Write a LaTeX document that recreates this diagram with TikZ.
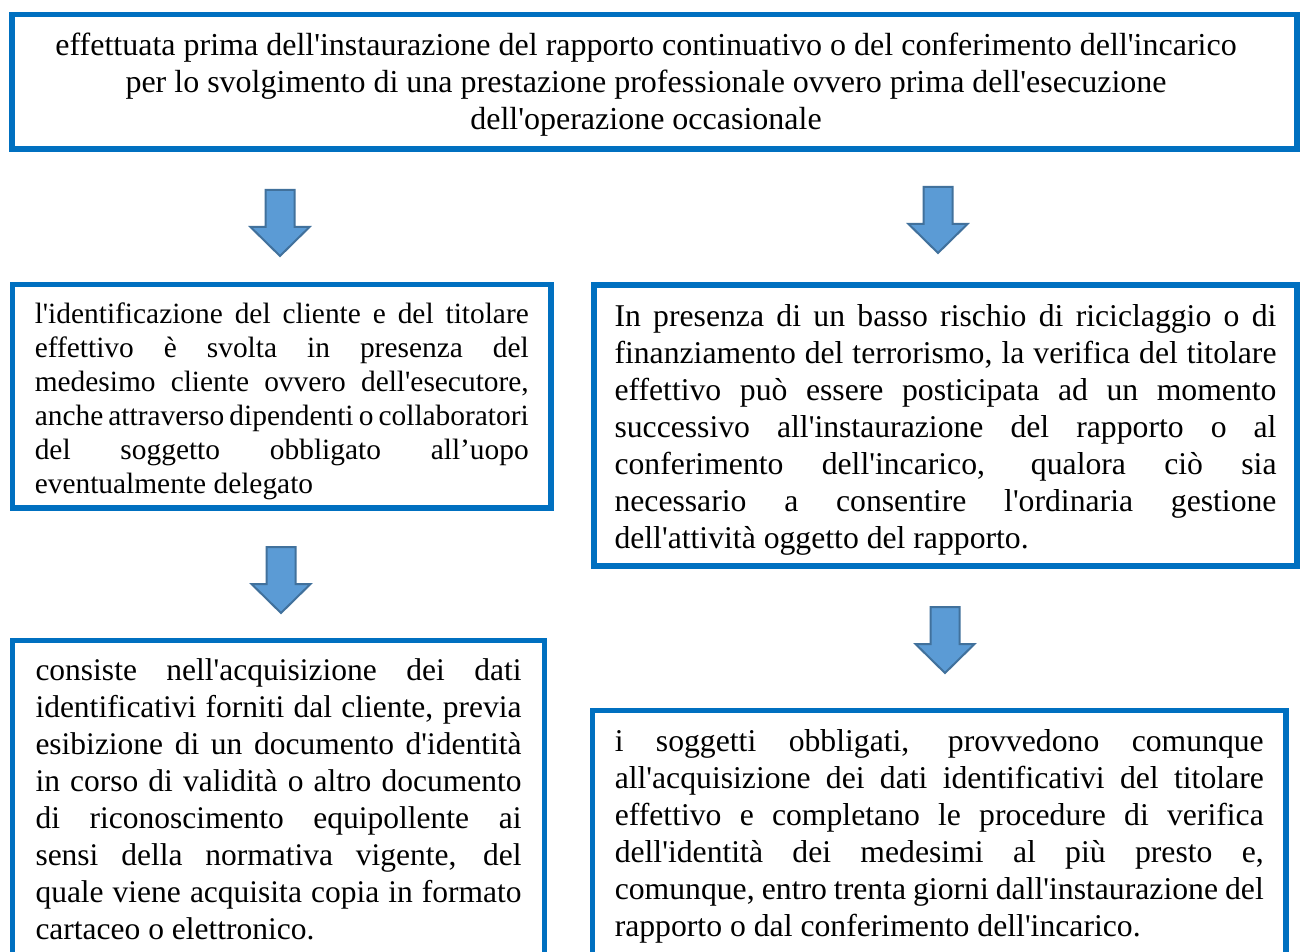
\documentclass[tikz,border=0pt]{standalone}
\usepackage{fontspec}
\setmainfont{Liberation Serif}[Ligatures=TeXOff]
\definecolor{bordoblu}{HTML}{0070C0}
\definecolor{frecciablu}{HTML}{5B9BD5}
\definecolor{frecciabordo}{HTML}{41719C}
\newcommand{\giustifica}{\spaceskip=.25em plus .5em minus .12em\relax\hyphenpenalty=10000\relax\tolerance=10000\relax}

\begin{document}
\begin{tikzpicture}[x=1pt,y=-1pt,
		riquadro/.style={draw=bordoblu, line width=5.5pt, inner sep=0pt},
		testo/.style={inner sep=0pt, align=justify, font={\fontsize{31.7}{37}\selectfont\giustifica}},
		testopiccolo/.style={testo, font={\fontsize{29.4}{34}\selectfont\giustifica}},
		freccia/.style={fill=frecciablu, draw=frecciabordo, line width=2pt}]
		\useasboundingbox (0,0) rectangle (1301,952);
		\fill[white] (0,0) rectangle (1301,952);
		% riquadro in alto
		\node[riquadro, minimum width=1285pt, minimum height=134.5pt] (cornice) at (654.5,81.75) {};
		\node[font={\fontsize{32}{37}\selectfont}, align=center] (intestazione) at (646,85) {effettuata prima dell'instaurazione del rapporto continuativo o del conferimento dell'incarico\\per lo svolgimento di una prestazione professionale ovvero prima dell'esecuzione\\dell'operazione occasionale};
		% colonna sinistra
		\node[riquadro, minimum width=538.5pt, minimum height=223.5pt] (riqident) at (281.75,396.25) {};
		\node[testopiccolo, text width=494pt] (identificazione) at (281.75,401.75) {l'identificazione del cliente e del titolare\linebreak effettivo è svolta in presenza del\linebreak medesimo cliente ovvero dell'esecutore,\linebreak anche attraverso dipendenti o collaboratori\linebreak del soggetto obbligato all’uopo\linebreak eventualmente delegato};
		\node[riquadro, minimum width=532pt, minimum height=317.5pt] (riqacq) at (278.5,799.25) {};
		\node[testo, font={\fontsize{31.5}{37}\selectfont\giustifica}, text width=486pt] (acquisizione) at (278.5,799.75) {consiste nell'acquisizione dei dati\linebreak identificativi forniti dal cliente, previa\linebreak esibizione di un documento d'identità\linebreak in corso di validità o altro documento\linebreak di riconoscimento equipollente ai\linebreak sensi della normativa vigente, del\linebreak quale viene acquisita copia in formato\linebreak cartaceo o elettronico.};
		% colonna destra
		\node[riquadro, minimum width=703pt, minimum height=281pt] (riqrischio) at (945.5,425.5) {};
		\node[testo, text width=662pt] (rischio) at (945.5,429.5) {In presenza di un basso rischio di riciclaggio o di\linebreak finanziamento del terrorismo, la verifica del titolare\linebreak effettivo può essere posticipata ad un momento\linebreak successivo all'instaurazione del rapporto o al\linebreak conferimento dell'incarico, qualora ciò sia\linebreak necessario a consentire l'ordinaria gestione\linebreak dell'attività oggetto del rapporto.};
		\node[riquadro, minimum width=693.5pt, minimum height=247.5pt] (riqobbl) at (939.25,834.25) {};
		\node[testo, text width=649pt] (obbligati) at (939.25,836.25) {i soggetti obbligati, provvedono comunque\linebreak all'acquisizione dei dati identificativi del titolare\linebreak effettivo e completano le procedure di verifica\linebreak dell'identità dei medesimi al più presto e,\linebreak comunque, entro trenta giorni dall'instaurazione del\linebreak rapporto o dal conferimento dell'incarico.};
		% frecce
		\foreach \ax/\ay in {280/190, 938/187, 281/547, 945/607}
			\draw[freccia] (\ax-14.5,\ay) -- (\ax+14.5,\ay) -- (\ax+14.5,\ay+37) -- (\ax+29.5,\ay+37) -- (\ax,\ay+66) -- (\ax-29.5,\ay+37) -- (\ax-14.5,\ay+37) -- cycle;
\end{tikzpicture}
\end{document}
